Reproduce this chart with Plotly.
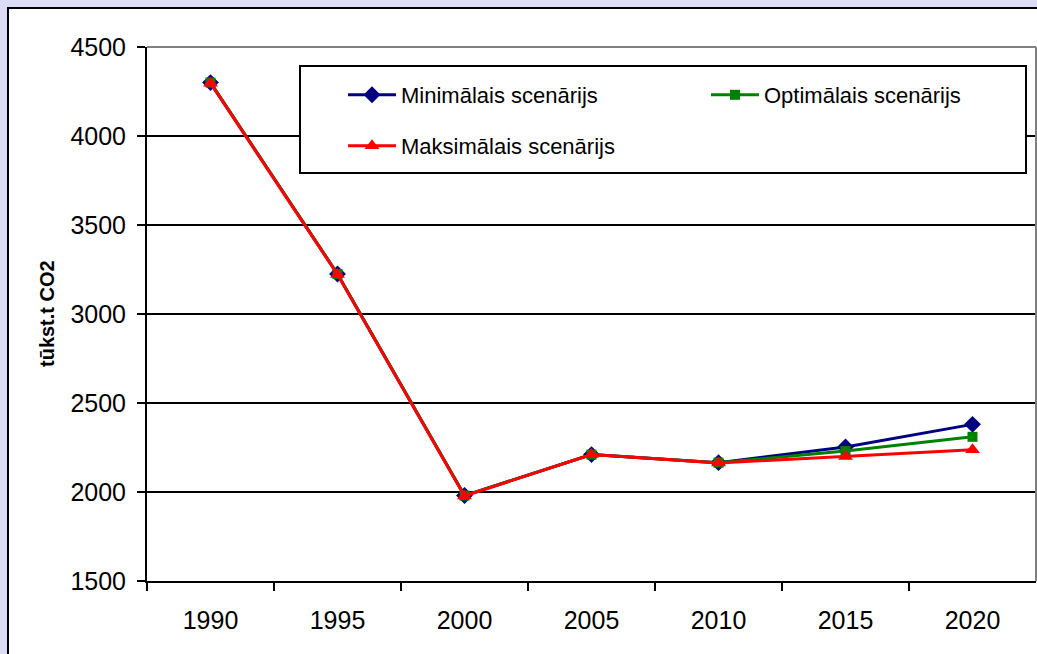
import plotly.graph_objects as go

W, H = 1037, 654

years = ['1990', '1995', '2000', '2005', '2010', '2015', '2020']
min_vals = [4300, 3225, 1980, 2210, 2165, 2253, 2380]
opt_vals = [4300, 3225, 1980, 2210, 2165, 2230, 2310]
max_vals = [4297, 3222, 1978, 2210, 2163, 2200, 2238]

names = ['Minimālais scenārijs', 'Optimālais scenārijs', 'Maksimālais scenārijs']
colors = ['#000080', '#008000', '#ff0000']
symbols = ['diamond', 'square', 'triangle-up']
sizes = [13, 10, 13]
y_title = 'tūkst.t CO2'
y_ticks = [1500, 2000, 2500, 3000, 3500, 4000, 4500]


def px(x):
    return x / W


def py(y):
    return 1 - y / H


fig = go.Figure()
series = [min_vals, opt_vals, max_vals]
legends = ['legend2', 'legend3', 'legend4']
for vals, name, c, s, sz, lg in zip(series, names, colors, symbols, sizes, legends):
    fig.add_trace(go.Scatter(
        x=years, y=vals, name=name, mode='lines+markers',
        line=dict(color=c, width=3),
        marker=dict(symbol=s, size=sz, color=c, line=dict(width=0)),
        legend=lg,
    ))

leg_font = dict(family='Arial, Liberation Sans, sans-serif', size=22, color='black')
leg_common = dict(bgcolor='rgba(0,0,0,0)', borderwidth=0, font=leg_font,
                  xanchor='left', yanchor='middle', itemwidth=48)

fig.update_layout(
    template='none',
    width=W, height=H,
    margin=dict(l=0, r=0, t=0, b=0, autoexpand=False),
    paper_bgcolor='#dcdcf6',
    plot_bgcolor='rgba(0,0,0,0)',
    font=dict(family='Arial, Liberation Sans, sans-serif', size=25, color='black'),
    showlegend=True,
    legend2=dict(x=px(343), y=py(95), **leg_common),
    legend3=dict(x=px(706), y=py(95), **leg_common),
    legend4=dict(x=px(343), y=py(146), **leg_common),
    xaxis=dict(
        type='category', domain=[px(147), px(1036)], automargin=False,
        range=[-0.5, len(years) - 0.5],
        tickson='boundaries', ticks='outside', ticklen=8, tickwidth=2, tickcolor='black',
        showline=True, linecolor='black', linewidth=2,
        showgrid=False, zeroline=False, ticklabelstandoff=16,
        tickfont=dict(size=25),
    ),
    yaxis=dict(
        domain=[73 / H, 607 / H], automargin=False,
        range=[1500, 4500], tickvals=y_ticks,
        ticks='outside', ticklen=8, tickwidth=2, tickcolor='black',
        showline=True, linecolor='black', linewidth=2,
        showgrid=True, gridcolor='black', gridwidth=1.5,
        zeroline=False, ticklabelstandoff=6,
        tickfont=dict(size=25),
    ),
    shapes=[
        # chart area
        dict(type='rect', xref='paper', yref='paper', x0=px(8), x1=1.05, y0=-0.05, y1=py(8),
             line=dict(color='black', width=2), fillcolor='white', layer='below'),
        # plot area top & right border (gray)
        dict(type='line', xref='x domain', yref='y domain', x0=0, x1=1, y0=1, y1=1,
             line=dict(color='#808080', width=2), layer='above'),
        dict(type='line', xref='x domain', yref='y domain', x0=1, x1=1, y0=0, y1=1,
             line=dict(color='#808080', width=2), layer='above'),
        # legend box
        dict(type='rect', xref='paper', yref='paper', x0=px(300), x1=px(1026), y0=py(173), y1=py(66),
             line=dict(color='black', width=2), fillcolor='white', layer='above'),
    ],
    annotations=[
        dict(text='<b>' + y_title + '</b>', textangle=-90, xref='paper', yref='paper',
             x=px(47), y=(73 + 607) / 2 / H, xanchor='center', yanchor='middle', showarrow=False,
             font=dict(family='Arial, Liberation Sans, sans-serif', size=20, color='black')),
    ],
)

fig.write_html('out.html')
